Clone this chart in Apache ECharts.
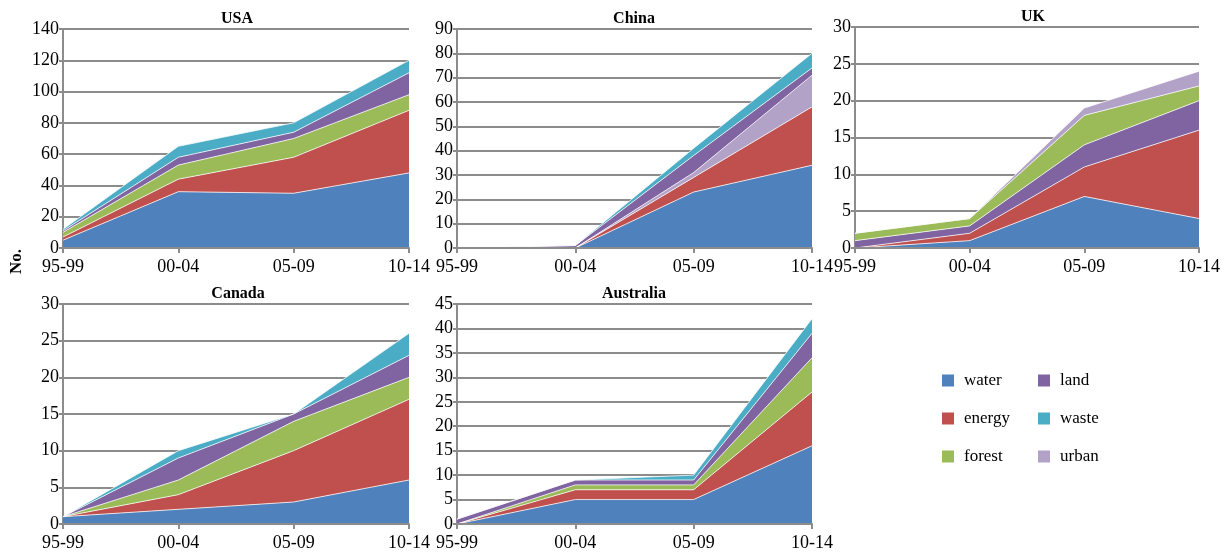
<!DOCTYPE html>
<html>
<head>
<meta charset="utf-8">
<title>Projects by sector and period</title>
<script src="https://cdn.jsdelivr.net/npm/echarts@6/dist/echarts.min.js"></script>
<style>
  html, body { margin: 0; padding: 0; background: #fff; }
  #chart { width: 1223px; height: 555px; }
</style>
</head>
<body>
<div id="chart"></div>
<script>
// Periods on the category axis
const categories = ['95-99', '00-04', '05-09', '10-14'];

// USA
const usaWater  = [5, 36, 35, 48];
const usaEnergy = [2, 8, 23, 40];
const usaForest = [3, 9, 12, 10];
const usaLand   = [1, 5, 4, 14];
const usaWaste  = [1, 7, 6, 8];

// China
const chinaWater  = [0, 0, 23, 34];
const chinaEnergy = [0, 0, 6, 24];
const chinaUrban  = [0, 0, 2, 13];
const chinaLand   = [0, 1, 7, 3];
const chinaWaste  = [0, 0, 3, 6];

// UK
const ukWater  = [0, 1, 7, 4];
const ukEnergy = [0, 1, 4, 12];
const ukLand   = [1, 1, 3, 4];
const ukForest = [1, 1, 4, 2];
const ukUrban  = [0, 0, 1, 2];

// Canada
const canadaWater  = [1, 2, 3, 6];
const canadaEnergy = [0, 2, 7, 11];
const canadaForest = [0, 2, 4, 3];
const canadaLand   = [0, 3, 1, 3];
const canadaWaste  = [0, 1, 0, 3];

// Australia
const ausWater  = [0, 5, 5, 16];
const ausEnergy = [0, 2, 2, 11];
const ausForest = [0, 1, 1, 7];
const ausLand   = [1, 1, 1, 5];
const ausWaste  = [0, 0, 1, 3];

const sectorColors = {
  water: '#4F81BD', energy: '#C0504D', forest: '#9BBB59',
  land: '#8064A2', waste: '#4BACC6', urban: '#B3A2C7'
};

// One panel per country; layers listed bottom to top
const panels = [
  { name: 'USA', left: 63, top: 29, width: 346, height: 219, max: 140, interval: 20, titleX: 237, titleY: 11,
    layers: [['water', usaWater], ['energy', usaEnergy], ['forest', usaForest], ['land', usaLand], ['waste', usaWaste]] },
  { name: 'China', left: 457, top: 29, width: 355, height: 219, max: 90, interval: 10, titleX: 634, titleY: 11,
    layers: [['water', chinaWater], ['energy', chinaEnergy], ['urban', chinaUrban], ['land', chinaLand], ['waste', chinaWaste]] },
  { name: 'UK', left: 855, top: 27, width: 355, height: 221, max: 30, interval: 5, titleX: 1033, titleY: 9,
    layers: [['water', ukWater], ['energy', ukEnergy], ['land', ukLand], ['forest', ukForest], ['urban', ukUrban]] },
  { name: 'Canada', left: 63, top: 304, width: 346, height: 220, max: 30, interval: 5, titleX: 238, titleY: 286,
    layers: [['water', canadaWater], ['energy', canadaEnergy], ['forest', canadaForest], ['land', canadaLand], ['waste', canadaWaste]] },
  { name: 'Australia', left: 457, top: 304, width: 355, height: 220, max: 45, interval: 5, titleX: 634, titleY: 286,
    layers: [['water', ausWater], ['energy', ausEnergy], ['forest', ausForest], ['land', ausLand], ['waste', ausWaste]] }
];

const FONT = '"Liberation Serif", "Times New Roman", serif';
const AXIS_GRAY = '#8c8c8c';

const grid = [], xAxis = [], yAxis = [], series = [], title = [];

panels.forEach((p, i) => {
  grid.push({ left: p.left, top: p.top, width: p.width, height: p.height, containLabel: false });
  title.push({
    text: p.name, left: p.titleX, top: p.titleY, textAlign: 'center', padding: 0,
    textStyle: { fontFamily: FONT, fontWeight: 'bold', fontSize: 16, color: '#000' }
  });
  xAxis.push({
    type: 'category', gridIndex: i, data: categories, boundaryGap: false, z: 5,
    axisLine: { lineStyle: { color: AXIS_GRAY, width: 2 } },
    axisTick: { show: true, length: 5, lineStyle: { color: AXIS_GRAY, width: 2 } },
    axisLabel: { fontFamily: FONT, fontSize: 18, color: '#000', margin: 10 },
    splitLine: { show: false }
  });
  yAxis.push({
    type: 'value', gridIndex: i, min: 0, max: p.max, interval: p.interval,
    axisLine: { show: true, lineStyle: { color: AXIS_GRAY, width: 2 } },
    axisTick: { show: true, length: 4, lineStyle: { color: AXIS_GRAY, width: 2 } },
    axisLabel: { fontFamily: FONT, fontSize: 18, color: '#000', margin: 4 },
    splitLine: { show: true, lineStyle: { color: AXIS_GRAY, width: 2 } }
  });
  p.layers.forEach(([sector, values]) => {
    series.push({
      name: sector, type: 'line', xAxisIndex: i, yAxisIndex: i,
      stack: p.name, data: values, symbol: 'none', smooth: false,
      itemStyle: { color: sectorColors[sector] },
      lineStyle: { color: 'rgba(255,255,255,0.75)', width: 1 },
      areaStyle: { color: sectorColors[sector], opacity: 1 },
      emphasis: { disabled: true },
      silent: true
    });
  });
});

const legendBase = {
  orient: 'vertical', icon: 'rect', itemWidth: 12, itemHeight: 12, itemGap: 21,
  selectedMode: false, padding: 0,
  itemStyle: { borderWidth: 0 },
  textStyle: { fontFamily: FONT, fontSize: 17, color: '#000', padding: [0, 0, 0, 5] }
};

const chart = echarts.init(document.getElementById('chart'), null, { renderer: 'canvas' });
chart.setOption({
  animation: false,
  backgroundColor: '#fff',
  title: title,
  grid: grid,
  xAxis: xAxis,
  yAxis: yAxis,
  legend: [
    Object.assign({}, legendBase, { left: 942, top: 372, data: ['water', 'energy', 'forest'] }),
    Object.assign({}, legendBase, { left: 1038, top: 372, data: ['land', 'waste', 'urban'] })
  ],
  graphic: [{
    type: 'text', left: 8, top: 249, rotation: Math.PI / 2,
    style: { text: 'No.', fontFamily: FONT, fontWeight: 'bold', fontSize: 17, fill: '#000' }
  }],
  series: series
});
</script>
</body>
</html>
